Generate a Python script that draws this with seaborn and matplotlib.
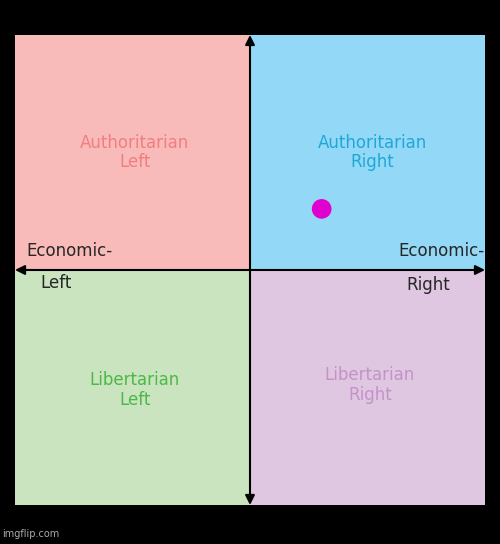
import numpy as np
import pandas as pd
import matplotlib
matplotlib.use("Agg")
import matplotlib.pyplot as plt
import seaborn as sns
from matplotlib.patches import Rectangle

# quadrant data
quad_labels = ["Authoritarian\nLeft", "Authoritarian\nRight", "Libertarian\nLeft", "Libertarian\nRight"]
quad_x = [-10, 0, -10, 0]
quad_y = [0, 0, -10, -10]
quad_fill = ["#f9bbb9", "#93d9f7", "#c9e4bf", "#e0c7e1"]
quad_text = ["#f07f7f", "#1fa8d6", "#4db848", "#c492c8"]
label_x = [-4.9, 5.2, -4.9, 5.1]
label_y = [5.0, 5.0, -5.1, -4.9]

# the plotted point
point_x = [3.05]
point_y = [2.6]

sns.set_style("white")
plt.rcParams['font.family'] = ['DejaVu Sans']

fig = plt.figure(figsize=(5.0, 5.44), dpi=100, facecolor="black")
ax = fig.add_axes([0.03, 0.0717, 0.94, 0.864])
ax.set_xlim(-10, 10)
ax.set_ylim(-10, 10)
ax.axis("off")

for qx, qy, fc, lab, tc, lx, ly in zip(quad_x, quad_y, quad_fill, quad_labels, quad_text, label_x, label_y):
    ax.add_patch(Rectangle((qx, qy), 10, 10, facecolor=fc, edgecolor="none", zorder=0))
    ax.text(lx, ly, lab, color=tc, fontsize=12, ha="center", va="center", linespacing=1.1)

# axes with arrows
arrow = dict(arrowstyle="<|-|>", color="black", lw=1.5, mutation_scale=14, shrinkA=0, shrinkB=0)
ax.annotate("", xy=(-10, 0), xytext=(10, 0), arrowprops=arrow, zorder=3)
ax.annotate("", xy=(0, -10), xytext=(0, 10), arrowprops=arrow, zorder=3)

ax.text(-9.5, 0.8, "Economic-", fontsize=12, ha="left", va="center")
ax.text(-8.9, -0.55, "Left", fontsize=12, ha="left", va="center")
ax.text(10, 0.8, "Economic-", fontsize=12, ha="right", va="center")
ax.text(7.6, -0.65, "Right", fontsize=12, ha="center", va="center")

df = pd.DataFrame({"x": point_x, "y": point_y})
sns.scatterplot(data=df, x="x", y="y", ax=ax, s=200, color="#e000d0", edgecolor="none", zorder=4)

fig.text(0.004, 0.01, "imgflip.com", color="#aaaaaa", fontsize=7, ha="left", va="bottom")

fig.savefig("out.png", dpi=100, facecolor="black")
